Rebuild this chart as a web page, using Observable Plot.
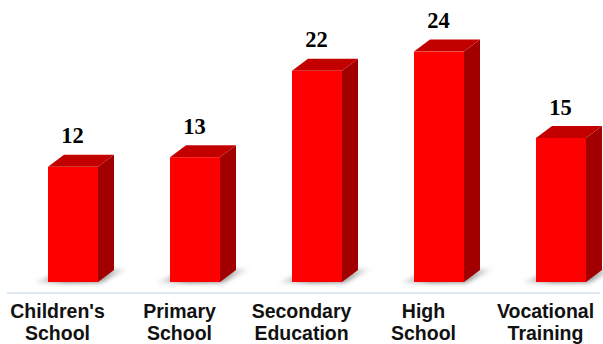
<!DOCTYPE html>
<html>
<head>
<meta charset="utf-8">
<script src="https://cdn.jsdelivr.net/npm/d3@7"></script>
<script src="https://cdn.jsdelivr.net/npm/@observablehq/plot@0.6"></script>
<style>
  html, body { margin: 0; padding: 0; background: #fff; }
  #chart svg { display: block; }
</style>
</head>
<body>
<div id="chart"></div>
<script>
const categories = ["Children's\nSchool", "Primary\nSchool", "Secondary\nEducation", "High\nSchool", "Vocational\nTraining"];
const values = [12, 13, 22, 24, 15];

const data = categories.map((c, i) => ({cat: c, value: values[i]}));

const DX = 16, DY = -12;
const NS = "http://www.w3.org/2000/svg";

function poly(points, attrs) {
  const p = document.createElementNS(NS, "polygon");
  p.setAttribute("points", points.map(q => q.join(",")).join(" "));
  for (const k in attrs) p.setAttribute(k, attrs[k]);
  return p;
}

function render3d(index, scales, vals, dimensions, context, next) {
  const g = next(index, scales, vals, dimensions, context);
  const wrap = document.createElementNS(NS, "g");
  const defs = document.createElementNS(NS, "defs");
  defs.innerHTML = `<filter id="shblur" x="-20%" y="-50%" width="140%" height="200%"><feGaussianBlur stdDeviation="2"/></filter>
  <linearGradient id="shgrad" x1="0" x2="1" y1="0" y2="0">
    <stop offset="0" stop-color="#bbb" stop-opacity="0.3"/>
    <stop offset="0.35" stop-color="#777" stop-opacity="0.9"/>
    <stop offset="0.75" stop-color="#888" stop-opacity="0.8"/>
    <stop offset="1" stop-color="#ccc" stop-opacity="0.2"/>
  </linearGradient>`;
  wrap.appendChild(defs);
  const shadows = document.createElementNS(NS, "g");
  const faces = document.createElementNS(NS, "g");
  for (const r of g.querySelectorAll("rect")) {
    const x = +r.getAttribute("x"), y = +r.getAttribute("y");
    const w = +r.getAttribute("width"), h = +r.getAttribute("height");
    const b = y + h;
    shadows.appendChild(poly([[x - 14, b + 1], [x + w + 2, b + 1], [x + w + DX + 14, b + DY - 1], [x + DX, b + DY - 1]],
      {fill: "url(#shgrad)", filter: "url(#shblur)"}));
    faces.appendChild(poly([[x + w, y], [x + w + DX, y + DY], [x + w + DX, b + DY], [x + w, b]], {fill: "#a20000"}));
    faces.appendChild(poly([[x, y], [x + DX, y + DY], [x + w + DX, y + DY], [x + w, y]], {fill: "#c30000"}));
  }
  wrap.appendChild(shadows);
  wrap.appendChild(faces);
  wrap.appendChild(g);
  return wrap;
}

const chart = Plot.plot({
  width: 603,
  height: 344,
  marginTop: 42,
  marginBottom: 62,
  marginLeft: 7,
  marginRight: 3,
  style: {background: "#fff", overflow: "visible"},
  x: {domain: categories, range: [46, 588], paddingInner: 0.593, paddingOuter: 0, axis: null},
  y: {domain: [0, 25], axis: null},
  marks: [
    Plot.ruleY([0], {dy: 10.5, stroke: "#d5e3f1", strokeWidth: 1.5}),
    Plot.barY(data, {x: "cat", y: "value", fill: "#ff0000", render: render3d}),
    Plot.text(data, {
      x: "cat", y: "value", text: d => String(d.value), dx: -1, dy: -24, lineAnchor: "bottom",
      fontFamily: "'Liberation Serif', 'Times New Roman', serif", fontWeight: "bold", fontSize: 22.5, fill: "#000"
    }),
    Plot.text(data, {
      x: "cat", y: 0, text: "cat", dx: -16, dy: 21, lineAnchor: "top", lineHeight: 1.08,
      fontFamily: "'Liberation Sans', Arial, sans-serif", fontWeight: "bold", fontSize: 19.5, fill: "#111"
    })
  ]
});
document.getElementById("chart").appendChild(chart);
</script>
</body>
</html>
